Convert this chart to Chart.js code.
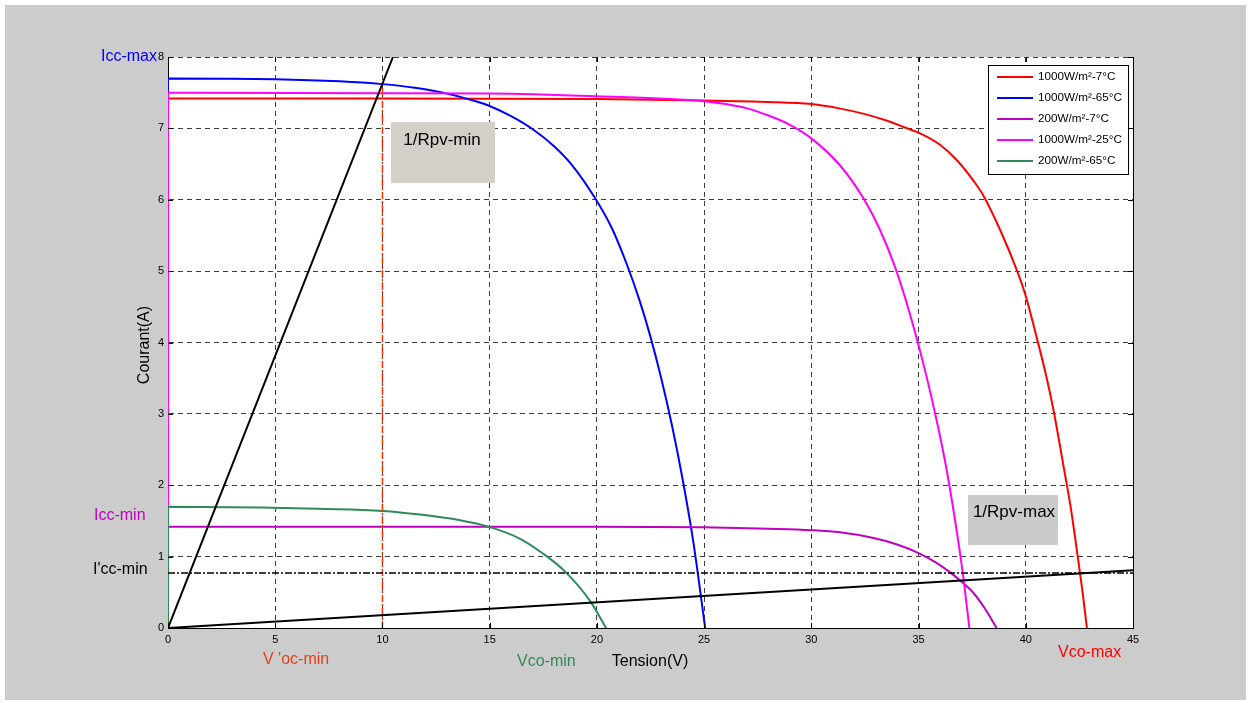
<!DOCTYPE html>
<html>
<head>
<meta charset="utf-8">
<script src="https://cdn.jsdelivr.net/npm/chart.js@4/dist/chart.umd.min.js"></script>
<style>
    body { margin: 0; background: #ffffff; }
    #wrap { width: 1251px; height: 702px; }
</style>
</head>
<body>
<div id="wrap"><canvas id="pv"></canvas></div>
<script>
// I-V curves (tension in V, courant in A)
const vRed = [0, 0, 10, 20, 25, 28, 30, 31.3, 32.5, 33.5, 34.3, 35, 36, 36.8, 37.6, 38, 38.8, 39.6, 40, 40.5, 40.9, 41.3, 41.8, 42.1, 42.4, 42.65, 42.85];
const iRed = [0, 7.42, 7.42, 7.41, 7.39, 7.37, 7.34, 7.28, 7.2, 7.11, 7.02, 6.94, 6.77, 6.55, 6.25, 6.07, 5.58, 5.0, 4.65, 4.08, 3.6, 3.04, 2.2, 1.68, 1.05, 0.5, 0];

const vBlue = [0, 0, 5, 8, 10, 11.5, 13, 14, 14.94, 16, 17.04, 18, 18.83, 19.92, 20.7, 21.39, 22, 22.48, 23, 23.5, 24, 24.5, 25.05];
const iBlue = [0, 7.70, 7.69, 7.66, 7.62, 7.57, 7.49, 7.41, 7.32, 7.17, 6.98, 6.75, 6.49, 6.02, 5.6, 5.1, 4.58, 4.1, 3.5, 2.84, 2.08, 1.2, 0];

const vPurple = [0, 0, 20, 25, 28, 30, 31.34, 32.9, 34, 35, 35.8, 36.47, 37.0, 37.56, 38.1, 38.64];
const iPurple = [0, 1.42, 1.42, 1.41, 1.39, 1.37, 1.34, 1.26, 1.17, 1.05, 0.92, 0.78, 0.65, 0.49, 0.27, 0];

const vMagenta = [0, 0, 15, 20, 25, 26, 27, 28, 29, 30, 31.34, 32.43, 33.2, 33.9, 34.45, 34.92, 35.35, 35.85, 36.32, 36.86, 37.1, 37.37];
const iMagenta = [0, 7.50, 7.49, 7.45, 7.38, 7.34, 7.28, 7.18, 7.05, 6.86, 6.48, 6.02, 5.58, 5.06, 4.55, 4.05, 3.55, 2.9, 2.2, 1.2, 0.68, 0];

const vGreen = [0, 0, 4.3, 7, 10, 11.75, 13.62, 14.94, 16.42, 17.5, 18.52, 19.68, 20.43];
const iGreen = [0, 1.70, 1.69, 1.67, 1.64, 1.59, 1.51, 1.42, 1.25, 1.04, 0.79, 0.38, 0];

const seriesLabels = ['1000W/m²-7°C', '1000W/m²-65°C', '200W/m²-7°C', '1000W/m²-25°C', '200W/m²-65°C'];
const seriesColours = ['#ff0000', '#0000ff', '#bf00bf', '#ff00ff', '#2e8b57'];

// reference lines: 1/Rpv-min, 1/Rpv-max, I'cc-min, V'oc-min
const vRpvMin = [0, 10.49];
const iRpvMin = [0, 8];
const vRpvMax = [0, 45];
const iRpvMax = [0, 0.81];
const vIccMin = [0, 45];
const iIccMin = [0.77, 0.77];
const vVocMin = [10, 10];
const iVocMin = [0, 7.63];

const xTicks = [0, 5, 10, 15, 20, 25, 30, 35, 40, 45];
const yTicks = [0, 1, 2, 3, 4, 5, 6, 7, 8];

function toPoints(vs, is) {
    return vs.map(function(v, k) { return { x: v, y: is[k] }; });
}

var curves = [[vRed, iRed], [vBlue, iBlue], [vPurple, iPurple], [vMagenta, iMagenta], [vGreen, iGreen]];
var datasets = curves.map(function(c, k) {
    return {
        label: seriesLabels[k],
        data: toPoints(c[0], c[1]),
        borderColor: seriesColours[k],
        borderWidth: 2,
        pointRadius: 0,
        showLine: true,
        cubicInterpolationMode: 'monotone',
        order: 10 - k   // later curves on top, like the original plot
    };
});

function refLine(vs, is, colour, dash, width) {
    return {
        label: '',
        ref: true,
        data: toPoints(vs, is),
        borderColor: colour,
        borderWidth: width,
        borderDash: dash,
        pointRadius: 0,
        showLine: true,
        tension: 0,
        order: 1
    };
}
datasets.push(refLine(vRpvMin, iRpvMin, '#000000', [], 2));
datasets.push(refLine(vRpvMax, iRpvMax, '#000000', [], 2));
datasets.push(refLine(vIccMin, iIccMin, '#000000', [7, 2, 2, 2], 1.5));
datasets.push(refLine(vVocMin, iVocMin, '#ff3300', [7, 2, 2, 2], 1.5));

/*
* Background panel, frame, inward ticks, legend and text labels
*/
const decorations = {
    id: 'decorations',
    beforeDraw: function(chart) {
        var ctx = chart.ctx;
        var a = chart.chartArea;
        ctx.save();
        ctx.fillStyle = '#ffffff';
        ctx.fillRect(0, 0, chart.width, chart.height);
        ctx.fillStyle = '#cccccc';
        ctx.fillRect(5, 5, 1241, 695);
        ctx.fillStyle = '#ffffff';
        ctx.fillRect(a.left, a.top, a.right - a.left, a.bottom - a.top);
        ctx.restore();
    },
    afterDraw: function(chart) {
        var ctx = chart.ctx;
        var a = chart.chartArea;
        var xs = chart.scales.x;
        var ys = chart.scales.y;
        ctx.save();

        // solid right edge and inward tick marks
        ctx.strokeStyle = '#000000';
        ctx.lineWidth = 1;
        ctx.beginPath();
        ctx.moveTo(a.right + 0.5, a.top);
        ctx.lineTo(a.right + 0.5, a.bottom);
        xTicks.forEach(function(t) {
            var px = Math.round(xs.getPixelForValue(t)) + 0.5;
            ctx.moveTo(px, a.bottom); ctx.lineTo(px, a.bottom - 5);
            ctx.moveTo(px, a.top); ctx.lineTo(px, a.top + 5);
        });
        yTicks.forEach(function(t) {
            var py = Math.round(ys.getPixelForValue(t)) + 0.5;
            ctx.moveTo(a.left, py); ctx.lineTo(a.left + 5, py);
            ctx.moveTo(a.right, py); ctx.lineTo(a.right - 5, py);
        });
        ctx.stroke();

        // legend box
        var lx = 988, ly = 65, lw = 140, lh = 109;
        ctx.fillStyle = '#ffffff';
        ctx.fillRect(lx, ly, lw, lh);
        ctx.strokeStyle = '#000000';
        ctx.strokeRect(lx + 0.5, ly + 0.5, lw, lh);
        ctx.font = '11.7px "Liberation Sans", Arial, sans-serif';
        ctx.textBaseline = 'middle';
        ctx.textAlign = 'left';
        chart.data.datasets.forEach(function(ds, k) {
            if (ds.ref) return;
            var ry = ly + 12 + k * 21;
            ctx.strokeStyle = ds.borderColor;
            ctx.lineWidth = 2;
            ctx.beginPath();
            ctx.moveTo(lx + 9, ry); ctx.lineTo(lx + 45, ry);
            ctx.stroke();
            ctx.fillStyle = '#000000';
            ctx.fillText(ds.label, lx + 50, ry);
        });

        // grey text boxes
        ctx.fillStyle = '#d4d0c8';
        ctx.fillRect(391, 122, 104, 61);
        ctx.fillStyle = '#cbcbcb';
        ctx.fillRect(968, 495, 90, 50);
        ctx.fillStyle = '#000000';
        ctx.textAlign = 'center';
        ctx.font = '17px "Liberation Sans", Arial, sans-serif';
        ctx.fillText('1/Rpv-min', 442, 140);
        ctx.fillText('1/Rpv-max', 1014, 512);

        // axis titles and marker labels
        ctx.font = '16px "Liberation Sans", Arial, sans-serif';
        ctx.fillText('Tension(V)', 650, 662);
        ctx.save();
        ctx.translate(145, 345);
        ctx.rotate(-Math.PI / 2);
        ctx.fillText('Courant(A)', 0, 0);
        ctx.restore();

        ctx.textAlign = 'left';
        ctx.fillStyle = '#0000ff';
        ctx.fillText('Icc-max', 101, 57);
        ctx.fillStyle = '#c000c0';
        ctx.fillText('Icc-min', 94, 516);
        ctx.fillStyle = '#000000';
        ctx.fillText("I'cc-min", 93, 570);
        ctx.fillStyle = '#e8401a';
        ctx.fillText("V 'oc-min", 263, 660);
        ctx.fillStyle = '#2e8b57';
        ctx.fillText('Vco-min', 517, 662);
        ctx.fillStyle = '#ff0000';
        ctx.fillText('Vco-max', 1058, 653);
        ctx.restore();
    }
};

var tickFont = { family: '"Liberation Sans", Arial, sans-serif', size: 11 };

new Chart(document.getElementById('pv').getContext('2d'), {
    type: 'scatter',
    data: { datasets: datasets },
    options: {
        responsive: true,
        maintainAspectRatio: false,
        animation: false,
        layout: { padding: { left: 0, right: 118, top: 57, bottom: 0 } },
        plugins: {
            legend: { display: false },
            tooltip: { enabled: false }
        },
        scales: {
            x: {
                type: 'linear',
                min: 0,
                max: 45,
                afterFit: function(scale) { scale.height = 74; },
                afterBuildTicks: function(scale) {
                    scale.ticks = xTicks.map(function(v) { return { value: v }; });
                },
                ticks: { font: tickFont, color: '#000000', padding: 5, maxRotation: 0 },
                grid: { color: '#3c3c3c', lineWidth: 1, drawTicks: false },
                border: { display: true, color: '#000000', width: 1, dash: [5, 4] }
            },
            y: {
                type: 'linear',
                min: 0,
                max: 8,
                afterFit: function(scale) { scale.width = 168; },
                afterBuildTicks: function(scale) {
                    scale.ticks = yTicks.map(function(v) { return { value: v }; });
                },
                ticks: { font: tickFont, color: '#000000', padding: 4 },
                grid: { color: '#3c3c3c', lineWidth: 1, drawTicks: false },
                border: { display: true, color: '#000000', width: 1, dash: [5, 4] }
            }
        }
    },
    plugins: [decorations]
});
</script>
</body>
</html>
